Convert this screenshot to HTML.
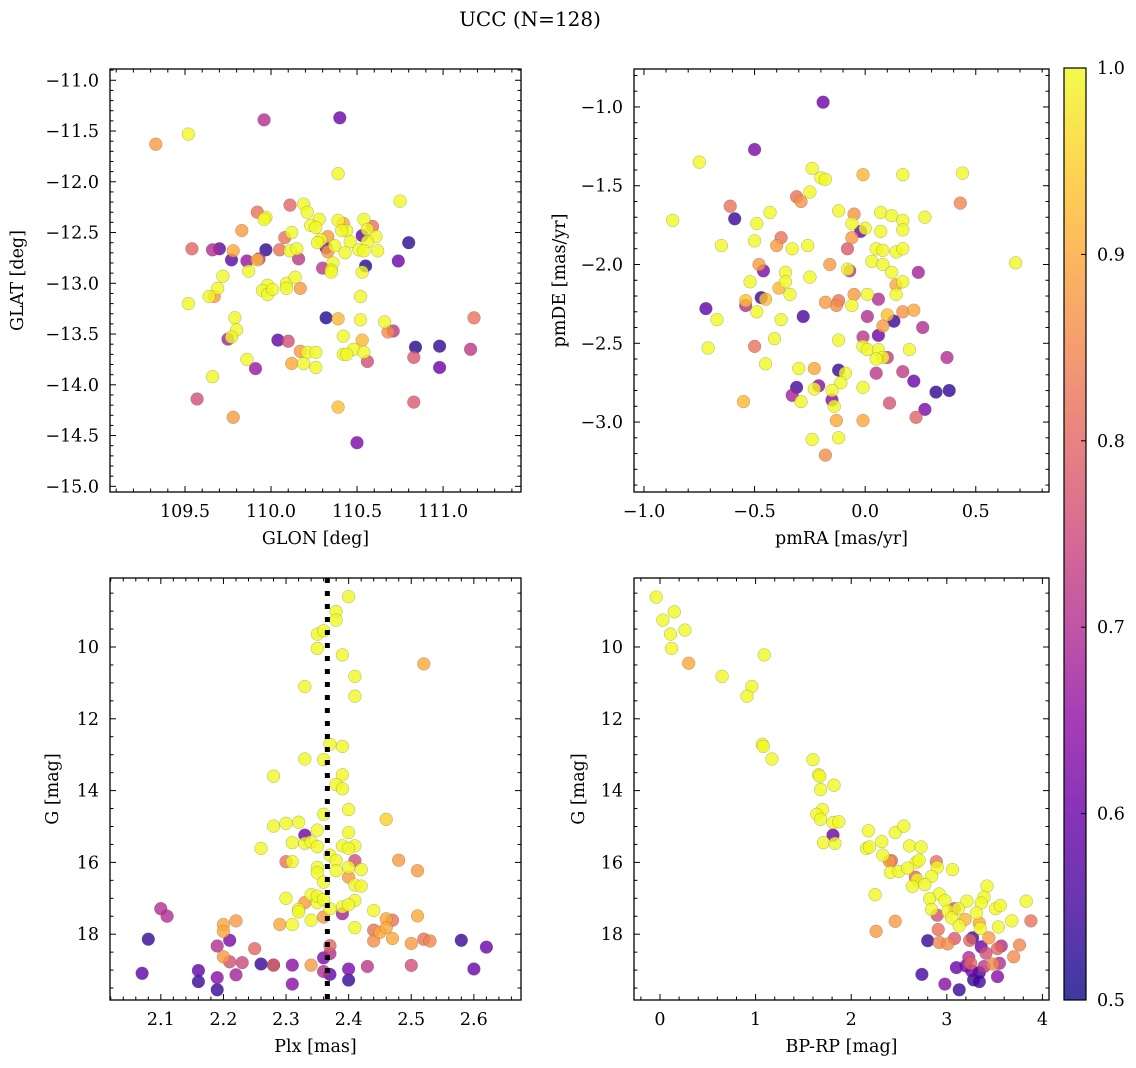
<!DOCTYPE html>
<html><head><meta charset="utf-8"><style>
html,body{margin:0;padding:0;background:#fff;}
svg{display:block;font-family:"DejaVu Serif","Liberation Serif",serif;}
</style></head><body>
<svg id="fig" width="1136" height="1068" viewBox="0 0 1136 1068" xmlns="http://www.w3.org/2000/svg">
<defs>
<linearGradient id="plasma" x1="0" y1="1" x2="0" y2="0">
<stop offset="0" stop-color="#0d0887"/><stop offset="0.1" stop-color="#41049d"/><stop offset="0.2" stop-color="#6a00a8"/><stop offset="0.3" stop-color="#8f0da4"/><stop offset="0.4" stop-color="#b12a90"/><stop offset="0.5" stop-color="#cc4778"/><stop offset="0.6" stop-color="#e16462"/><stop offset="0.7" stop-color="#f2844b"/><stop offset="0.8" stop-color="#fca636"/><stop offset="0.9" stop-color="#fcce25"/><stop offset="1" stop-color="#f0f921"/>
</linearGradient>
</defs>
<text x="530" y="26" font-size="20" text-anchor="middle">UCC (N=128)</text>
<g id="layer"></g>
</svg>
<script>
// ---- Panel 1: GLON / GLAT ----
const tlGlon=[109.33,109.52,109.96,110.40,110.39,110.75,110.11,110.19,109.92,109.97,109.96,110.21,110.28,110.23,110.26,110.39,110.42,110.54,110.59,110.56,110.44,110.41,110.61,109.83,110.12,110.08,110.33,110.29,110.27,110.53,110.46,110.56,110.37,110.80,109.54,109.66,109.70,109.78,109.77,109.86,109.93,109.92,109.97,110.05,110.11,110.15,110.16,110.33,110.32,110.43,110.51,110.54,110.62,110.74,110.55,110.53,110.30,110.36,110.35,110.35,109.87,109.72,109.69,109.64,109.67,109.52,109.98,109.95,109.98,110.01,110.09,110.09,110.14,110.17,110.52,110.32,110.39,110.52,110.66,110.68,110.71,111.18,109.79,109.80,109.75,109.77,110.04,110.10,110.42,110.53,110.84,110.98,111.16,110.17,110.21,110.26,110.48,110.42,110.44,110.54,110.56,110.83,109.86,110.12,110.19,110.26,109.91,110.98,109.66,109.57,109.78,110.39,110.83,110.50];
const tlGlat=[-11.63,-11.53,-11.39,-11.37,-11.92,-12.19,-12.23,-12.22,-12.30,-12.35,-12.37,-12.30,-12.37,-12.43,-12.45,-12.38,-12.41,-12.37,-12.44,-12.47,-12.48,-12.48,-12.54,-12.48,-12.50,-12.55,-12.54,-12.57,-12.60,-12.53,-12.59,-12.59,-12.63,-12.60,-12.66,-12.67,-12.66,-12.68,-12.77,-12.78,-12.76,-12.77,-12.67,-12.67,-12.68,-12.66,-12.76,-12.69,-12.65,-12.70,-12.67,-12.68,-12.68,-12.78,-12.83,-12.89,-12.85,-12.80,-12.87,-12.89,-12.88,-12.93,-13.05,-13.13,-13.13,-13.20,-13.02,-13.07,-13.11,-13.06,-13.00,-13.05,-12.94,-13.05,-13.13,-13.34,-13.35,-13.36,-13.38,-13.48,-13.47,-13.34,-13.34,-13.46,-13.55,-13.53,-13.56,-13.57,-13.52,-13.56,-13.63,-13.62,-13.65,-13.67,-13.68,-13.68,-13.65,-13.70,-13.70,-13.68,-13.77,-13.73,-13.75,-13.79,-13.79,-13.83,-13.84,-13.83,-13.92,-14.14,-14.32,-14.22,-14.17,-14.57];
const tlProb=[0.88,1,0.7,0.6,1,1,0.8,1,0.82,1,1,1,1,1,1,1,0.9,1,0.82,1,1,1,1,0.88,1,0.82,0.88,1,1,0.58,1,1,1,0.53,0.8,0.7,0.58,0.9,0.58,0.66,0.7,0.92,0.53,0.82,1,1,0.72,0.88,0.6,1,1,1,1,0.6,0.52,1,0.72,1,1,1,1,1,1,1,0.88,1,1,1,1,1,1,1,1,0.88,1,0.52,0.92,1,1,0.86,0.72,0.82,1,1,0.68,1,0.58,0.76,1,0.92,0.52,0.53,0.72,0.88,1,1,1,1,1,1,0.76,0.78,1,0.9,1,1,0.66,0.6,1,0.76,0.88,0.93,0.78,0.62];
// ---- Panel 2: pmRA / pmDE ----
const trPmra=[-0.19,-0.50,-0.75,-0.24,-0.20,-0.18,-0.01,0.17,0.44,-0.31,-0.29,-0.25,0.43,-0.61,-0.59,-0.87,-0.49,-0.43,-0.12,-0.05,-0.06,0.07,0.12,0.17,0.17,0.27,-0.02,0.00,0.07,-0.38,-0.40,-0.50,-0.65,-0.33,-0.26,-0.06,-0.08,0.05,0.08,0.14,0.17,0.03,0.08,0.68,-0.48,-0.46,-0.16,-0.07,-0.08,0.12,0.24,-0.36,-0.52,-0.36,-0.25,-0.39,-0.34,-0.47,-0.45,0.14,0.17,0.14,0.01,-0.05,-0.18,-0.12,-0.13,-0.06,0.06,-0.54,-0.54,-0.72,-0.49,-0.67,-0.38,-0.28,0.01,0.10,0.17,0.22,0.13,0.08,0.26,0.06,-0.01,-0.41,-0.12,-0.71,-0.50,-0.01,0.01,0.06,0.10,0.08,0.05,0.20,0.37,-0.45,-0.30,-0.23,-0.12,-0.09,0.05,0.17,0.22,-0.11,-0.21,-0.31,-0.33,-0.23,-0.01,0.32,0.38,-0.29,-0.15,-0.15,-0.14,-0.55,0.11,0.27,0.23,-0.13,-0.01,-0.24,-0.12,-0.18];
const trPmde=[-0.97,-1.27,-1.35,-1.39,-1.45,-1.46,-1.43,-1.43,-1.42,-1.57,-1.60,-1.54,-1.61,-1.63,-1.71,-1.72,-1.74,-1.67,-1.66,-1.68,-1.74,-1.67,-1.69,-1.72,-1.78,-1.70,-1.79,-1.77,-1.79,-1.83,-1.88,-1.85,-1.88,-1.90,-1.88,-1.83,-1.90,-1.90,-1.91,-1.92,-1.90,-1.98,-2.00,-1.99,-2.00,-2.04,-2.00,-2.04,-2.03,-2.05,-2.05,-2.05,-2.11,-2.11,-2.08,-2.15,-2.19,-2.21,-2.22,-2.13,-2.11,-2.19,-2.19,-2.19,-2.24,-2.23,-2.26,-2.26,-2.22,-2.26,-2.23,-2.28,-2.30,-2.35,-2.35,-2.33,-2.33,-2.32,-2.30,-2.29,-2.36,-2.39,-2.40,-2.45,-2.46,-2.47,-2.48,-2.53,-2.52,-2.52,-2.54,-2.54,-2.59,-2.59,-2.60,-2.54,-2.59,-2.63,-2.66,-2.66,-2.67,-2.69,-2.69,-2.68,-2.74,-2.75,-2.77,-2.78,-2.83,-2.79,-2.78,-2.81,-2.80,-2.87,-2.86,-2.80,-2.90,-2.87,-2.88,-2.92,-2.97,-2.99,-2.99,-3.11,-3.10,-3.21];
const trProb=[0.6,0.62,1,1,1,1,0.92,1,1,0.82,0.87,1,0.85,0.82,0.54,1,1,1,1,0.87,1,1,1,1,1,1,0.6,1,1,0.82,0.88,1,1,1,1,0.88,0.78,1,1,1,1,1,1,1,0.88,0.62,0.88,0.72,1,1,0.68,1,1,1,1,0.92,1,0.54,0.93,0.9,1,1,1,0.88,0.88,0.82,0.86,1,0.7,0.7,0.93,0.58,1,1,1,0.56,0.7,0.93,0.87,0.9,0.54,0.88,0.7,0.6,0.72,1,1,1,0.82,1,1,1,0.73,1,1,1,0.7,1,1,0.9,0.54,1,0.72,0.73,0.6,1,0.64,0.55,0.68,1,1,0.53,0.53,1,0.64,1,1,0.92,0.77,0.62,0.8,0.9,0.9,1,1,0.86];
// ---- Panel 3: Plx / G ----
const blPlx=[2.40,2.38,2.38,2.35,2.36,2.35,2.39,2.52,2.41,2.33,2.41,2.37,2.39,2.33,2.36,2.28,2.39,2.38,2.39,2.40,2.36,2.46,2.28,2.30,2.32,2.35,2.33,2.40,2.31,2.33,2.34,2.35,2.39,2.41,2.40,2.26,2.37,2.41,2.30,2.31,2.48,2.51,2.35,2.38,2.40,2.42,2.38,2.35,2.40,2.41,2.42,2.36,2.30,2.33,2.34,2.35,2.35,2.36,2.39,2.41,2.40,2.32,2.32,2.37,2.39,2.44,2.34,2.36,2.10,2.11,2.20,2.20,2.22,2.29,2.31,2.46,2.47,2.51,2.41,2.44,2.45,2.46,2.47,2.44,2.50,2.52,2.53,2.08,2.58,2.62,2.21,2.19,2.25,2.37,2.20,2.21,2.23,2.26,2.28,2.28,2.31,2.34,2.36,2.37,2.43,2.50,2.07,2.16,2.16,2.19,2.22,2.19,2.31,2.36,2.37,2.40,2.40,2.60];
const blG=[8.60,9.01,9.25,9.64,9.55,10.04,10.22,10.47,10.82,11.10,11.37,12.71,12.77,13.12,13.14,13.60,13.56,13.83,13.95,14.53,14.66,14.80,14.99,14.91,14.88,15.10,15.24,15.17,15.45,15.47,15.43,15.56,15.54,15.54,15.61,15.61,15.80,15.95,15.98,15.98,15.94,16.23,16.14,15.95,16.14,16.20,16.23,16.29,16.41,16.63,16.66,16.55,17.00,17.12,16.90,17.12,16.94,17.03,17.24,17.06,17.18,17.31,17.38,17.29,17.43,17.34,17.61,17.52,17.29,17.50,17.73,17.92,17.63,17.73,17.73,17.57,17.61,17.49,17.82,17.89,17.95,17.82,18.12,18.19,18.26,18.14,18.19,18.14,18.17,18.36,18.17,18.33,18.40,18.32,18.63,18.77,18.79,18.83,18.86,18.86,18.86,18.86,18.66,18.54,18.90,18.87,19.09,19.01,19.32,19.21,19.13,19.55,19.39,19.04,19.12,18.97,19.28,18.97];
const blProb=[1,1,1,1,1,1,1,0.9,1,1,1,1,1,1,1,1,1,1,1,1,1,0.95,1,1,1,1,0.6,1,1,1,1,1,1,1,1,1,1,0.76,0.82,1,0.88,0.88,1,1,1,1,1,1,0.88,1,1,1,1,0.88,1,1,1,1,1,1,1,1,1,1,0.68,1,1,0.88,0.7,0.7,0.9,0.9,0.88,0.9,1,0.9,0.82,0.9,1,0.82,0.9,0.9,0.9,0.86,0.88,0.82,0.85,0.54,0.54,0.6,0.62,0.7,0.8,0.8,0.88,0.76,0.75,0.54,0.8,0.54,0.64,0.88,0.62,0.7,0.72,0.76,0.58,0.58,0.54,0.64,0.68,0.54,0.64,0.7,0.58,0.62,0.54,0.6];
const plxMean=[2.366];
// ---- Panel 4: BP-RP / G ----
const brBprp=[-0.04,0.15,0.03,0.26,0.11,0.12,0.30,1.09,0.65,0.96,0.91,1.07,1.08,1.17,1.60,1.66,1.67,1.82,1.68,1.70,1.64,1.68,1.81,1.87,1.81,1.71,1.83,2.18,2.46,2.55,2.16,2.19,2.32,2.61,2.73,2.33,2.42,2.40,2.68,2.71,2.89,2.90,3.06,2.41,2.50,2.59,2.67,2.69,2.84,2.64,2.77,2.25,2.92,2.82,2.98,3.21,3.42,3.39,3.36,3.51,3.56,3.83,2.84,3.01,3.08,3.12,3.31,2.90,3.05,3.19,3.34,3.35,3.13,3.54,3.68,3.88,2.46,2.26,2.91,2.80,2.92,3.01,3.08,3.24,3.27,3.36,3.44,3.57,3.76,3.70,3.41,3.53,3.23,3.25,3.10,3.20,3.39,3.48,3.55,3.26,3.34,3.53,3.28,3.34,2.74,2.98,3.13];
const brG=[8.61,9.02,9.25,9.53,9.64,10.04,10.45,10.22,10.82,11.10,11.37,12.71,12.77,13.12,13.14,13.56,13.60,13.85,13.97,14.53,14.66,14.80,14.89,14.87,15.24,15.45,15.47,15.12,15.17,14.99,15.61,15.57,15.42,15.54,15.57,15.80,15.95,15.97,16.00,15.94,15.98,16.14,16.20,16.28,16.25,16.16,16.41,16.48,16.39,16.67,16.62,16.90,16.88,17.01,17.06,17.08,16.66,16.97,17.13,17.29,17.20,17.08,17.31,17.36,17.29,17.29,17.41,17.47,17.55,17.59,17.69,17.84,17.77,17.80,17.63,17.63,17.64,17.92,17.87,18.18,18.23,18.27,18.12,18.17,18.10,18.35,18.10,18.33,18.30,18.63,18.53,18.40,18.65,18.81,18.93,18.88,18.90,18.83,18.81,19.02,19.07,19.18,19.27,19.32,19.12,19.39,19.55];
const brProb=[1,1,1,1,1,1,0.9,1,1,1,1,1,1,1,1,1,1,1,1,1,1,1,1,1,0.6,1,1,1,1,1,1,1,1,1,1,1,0.8,0.88,1,1,0.82,1,1,1,1,1,0.8,1,1,1,1,1,1,1,1,1,1,1,1,1,1,1,1,1,0.76,1,1,0.76,1,0.92,0.9,1,1,1,1,0.82,0.88,0.88,0.82,0.54,0.85,0.86,0.78,0.8,0.55,0.6,0.88,0.7,0.85,0.86,0.76,0.8,0.7,0.8,0.6,0.62,0.72,0.86,0.7,0.6,0.55,0.64,0.54,0.55,0.55,0.64,0.54];
// ---- Colorbar ticks ----
const cbTicks=[0.5,0.6,0.7,0.8,0.9,1.0];

const NS="http://www.w3.org/2000/svg";
const layer=document.getElementById('layer');
function mk(tag,attrs,parent){const e=document.createElementNS(NS,tag);for(const k in attrs)e.setAttribute(k,attrs[k]);(parent||layer).appendChild(e);return e;}
const stops=[[0,[13,8,135]],[0.1,[65,4,157]],[0.2,[106,0,168]],[0.3,[143,13,164]],[0.4,[177,42,144]],[0.5,[204,71,120]],[0.6,[225,100,98]],[0.7,[242,132,75]],[0.8,[252,166,54]],[0.9,[252,206,37]],[1,[240,249,33]]];
function plasma(p){let t=Math.max(0,Math.min(1,(p-0.5)/0.5));for(let i=1;i<stops.length;i++){if(t<=stops[i][0]){const a=stops[i-1],b=stops[i];const f=(t-a[0])/(b[0]-a[0]);const c=a[1].map((v,j)=>Math.round(v+(b[1][j]-v)*f));return `rgb(${c[0]},${c[1]},${c[2]})`;}}return 'rgb(240,249,33)';}
function fmt(v,d){let s=v.toFixed(d);return s.replace('-','\u2212');}

function panel(o){
  const g=mk('g',{});
  
  
  const sx=v=>o.x0+(v-o.xd[0])/(o.xd[1]-o.xd[0])*(o.x1-o.x0);
  const sy=v=>o.y0+(v-o.yd[0])/(o.yd[1]-o.yd[0])*(o.y1-o.y0);
  const clip='c'+o.name;
  const cp=mk('clipPath',{id:clip},g);mk('rect',{x:o.x0,y:o.y0,width:o.x1-o.x0,height:o.y1-o.y0},cp);
  const pts=mk('g',{'clip-path':`url(#${clip})`},g);
  
  
  const idx=o.xs.map((_,i)=>i).sort((a,b)=>o.ps[a]-o.ps[b]);
  idx.forEach(i=>{
    const c=mk('circle',{cx:sx(o.xs[i]).toFixed(1),cy:sy(o.ys[i]).toFixed(1),r:6.4,fill:plasma(o.ps[i]),'fill-opacity':0.8,stroke:'#555','stroke-opacity':0.45,'stroke-width':0.5},pts);
    
    
  });
  if(o.vline){o.vline.forEach(v=>{const l=mk('line',{x1:sx(v),x2:sx(v),y1:o.y0,y2:o.y1,stroke:'#000','stroke-width':5,'stroke-dasharray':'5,8'},pts);
    
    });}
  const fr=mk('rect',{x:o.x0,y:o.y0,width:o.x1-o.x0,height:o.y1-o.y0,fill:'none',stroke:'#000','stroke-width':1.3},g);
  
  
  const xt=mk('g',{},g);
  
  
  for(let k=Math.ceil(o.xd[0]/o.xmin-1e-6);k*o.xmin<=o.xd[1]+1e-9;k++){const v=k*o.xmin;const px=sx(v);const major=Math.abs(v/o.xmaj-Math.round(v/o.xmaj))<1e-6;const L=major?6:3.5;
    mk('line',{x1:px,x2:px,y1:o.y1,y2:o.y1-L,stroke:'#000','stroke-width':1},xt);mk('line',{x1:px,x2:px,y1:o.y0,y2:o.y0+L,stroke:'#000','stroke-width':1},xt);
    if(major){const t=mk('text',{x:px,y:o.y1+25,'font-size':17.5,'text-anchor':'middle'},xt);t.textContent=fmt(v,o.xdec);}}
  const yt=mk('g',{},g);
  
  
  const ylo=Math.min(o.yd[0],o.yd[1]),yhi=Math.max(o.yd[0],o.yd[1]);
  for(let k=Math.ceil(ylo/o.ymin-1e-6);k*o.ymin<=yhi+1e-9;k++){const v=k*o.ymin;const py=sy(v);const major=Math.abs(v/o.ymaj-Math.round(v/o.ymaj))<1e-6;const L=major?6:3.5;
    mk('line',{x1:o.x0,x2:o.x0+L,y1:py,y2:py,stroke:'#000','stroke-width':1},yt);mk('line',{x1:o.x1,x2:o.x1-L,y1:py,y2:py,stroke:'#000','stroke-width':1},yt);
    if(major){const t=mk('text',{x:o.x0-11,y:py+6,'font-size':17.5,'text-anchor':'end'},yt);t.textContent=fmt(v,o.ydec);}}
  const xl=mk('text',{x:(o.x0+o.x1)/2,y:o.y1+52,'font-size':17.5,'text-anchor':'middle'},g);xl.textContent=o.xlabel;
  
  
  const yc=(o.y0+o.y1)/2;
  const yl=mk('text',{x:o.ylx,y:yc,'font-size':17.5,'text-anchor':'middle',transform:`rotate(-90 ${o.ylx} ${yc})`},g);yl.textContent=o.ylabel;
  
  
}
panel({name:'glon-glat-panel',x0:110,x1:521,y0:69,y1:492,xd:[109.064,111.453],yd:[-10.889,-15.056],xs:tlGlon,ys:tlGlat,ps:tlProb,xmaj:0.5,xmin:0.1,ymaj:0.5,ymin:0.1,xdec:1,ydec:1,xlabel:'GLON [deg]',ylabel:'GLAT [deg]',ylx:23});
panel({name:'pm-panel',x0:634,x1:1049,y0:69,y1:492,xd:[-1.045,0.831],yd:[-0.759,-3.444],xs:trPmra,ys:trPmde,ps:trProb,xmaj:0.5,xmin:0.1,ymaj:0.5,ymin:0.1,xdec:1,ydec:1,xlabel:'pmRA [mas/yr]',ylabel:'pmDE [mas/yr]',ylx:565});
panel({name:'plx-g-panel',x0:110,x1:521,y0:578,y1:1000,xd:[2.0188,2.6753],yd:[8.078,19.833],xs:blPlx,ys:blG,ps:blProb,xmaj:0.1,xmin:0.02,ymaj:2,ymin:0.5,xdec:1,ydec:0,xlabel:'Plx [mas]',ylabel:'G [mag]',ylx:58,vline:plxMean});
panel({name:'cmd-panel',x0:634,x1:1049,y0:578,y1:1000,xd:[-0.272,4.069],yd:[8.078,19.833],xs:brBprp,ys:brG,ps:brProb,xmaj:1,xmin:0.2,ymaj:2,ymin:0.5,xdec:0,ydec:0,xlabel:'BP-RP [mag]',ylabel:'G [mag]',ylx:584});

const cb=mk('g',{});


const cx0=1064,cx1=1086,cy0=68,cy1=1000;
mk('rect',{x:cx0,y:cy0,width:cx1-cx0,height:cy1-cy0,fill:'url(#plasma)','fill-opacity':0.8},cb);
mk('rect',{x:cx0,y:cy0,width:cx1-cx0,height:cy1-cy0,fill:'none',stroke:'#000','stroke-width':1.2},cb);
const cby=v=>cy1-(v-0.5)/0.5*(cy1-cy0);
cbTicks.forEach(v=>{const y=cby(v);mk('line',{x1:cx1,x2:cx1-5,y1:y,y2:y,stroke:'#000','stroke-width':1},cb);
  const t=mk('text',{x:cx1+11,y:y+6,'font-size':17.5},cb);t.textContent=v.toFixed(1);
  
  });
</script>
</body></html>
